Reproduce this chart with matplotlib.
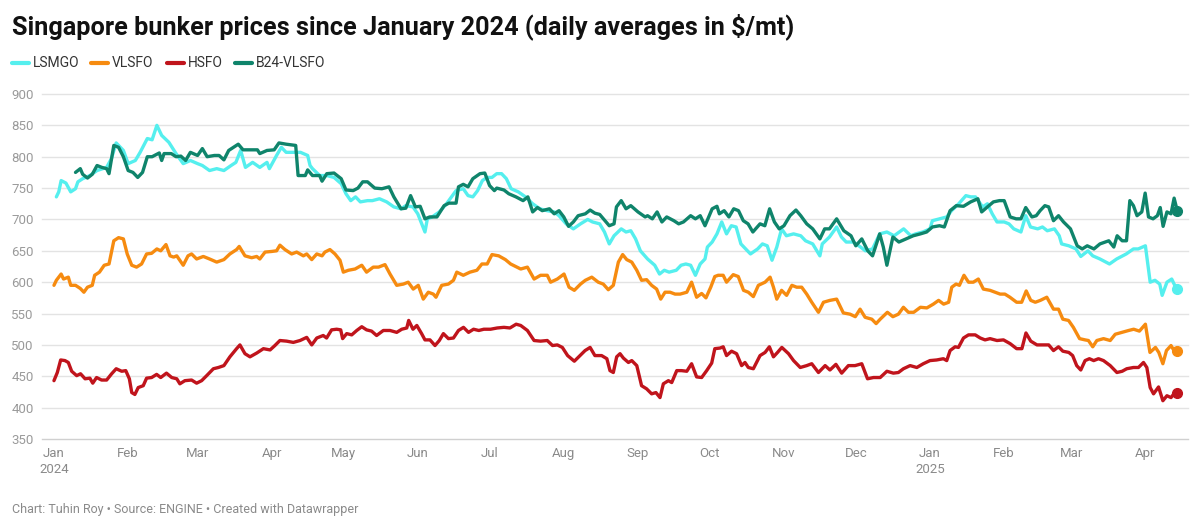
import numpy as np
import pandas as pd
import matplotlib
matplotlib.use('Agg')
import matplotlib.pyplot as plt

plt.rcParams['font.family'] = ['Roboto', 'DejaVu Sans']

# days since 1 Jan 2024, daily averages in $/mt
lsmgo_days = [1, 2, 3, 5, 7, 9, 10, 12, 15, 18, 22, 24, 26, 29, 31, 34, 36, 39, 41, 43, 45, 48, 51, 54, 57, 60,
              62, 65, 68, 71, 74, 76, 78, 80, 83, 86, 89, 90, 93, 95, 97, 100, 103, 106, 107, 108, 111, 114, 117,
              120, 122, 124, 126, 128, 131, 133, 136, 139, 142, 145, 147, 150, 152, 155, 156, 158, 161, 164, 168,
              171, 173, 175, 177, 179, 181, 183, 185, 187, 189, 191, 194, 197, 200, 203, 206, 209, 211, 214, 217,
              220, 223, 225, 228, 230, 232, 234, 237, 239, 241, 243, 245, 248, 251, 253, 255, 257, 260, 262, 264,
              266, 268, 270, 272, 273, 275, 277, 279, 281, 283, 285, 287, 289, 291, 294, 296, 298, 300, 302, 304,
              306, 309, 312, 314, 317, 320, 321, 324, 327, 329, 331, 334, 337, 339, 342, 345, 348, 351, 355, 358,
              360, 363, 366, 367, 370, 373, 375, 378, 381, 383, 385, 388, 390, 392, 394, 397, 399, 401, 404, 406,
              408, 411, 413, 415, 418, 420, 421, 424, 427, 429, 432, 434, 437, 441, 444, 448, 451, 453, 456, 458,
              460, 462, 463, 465, 467, 469]
lsmgo = [736, 744, 762, 758, 744, 749, 760, 765, 770, 778, 783, 797, 822, 810, 789, 794, 807, 829, 827, 850, 834,
         823, 805, 789, 794, 789, 786, 778, 781, 778, 786, 791, 810, 783, 791, 783, 791, 781, 802, 815, 807, 807,
         807, 802, 786, 781, 770, 770, 767, 757, 741, 730, 736, 728, 730, 730, 733, 728, 720, 717, 722, 720, 709,
         680, 701, 704, 712, 725, 746, 749, 738, 736, 746, 762, 767, 767, 773, 773, 765, 749, 744, 736, 725, 717,
         714, 712, 706, 693, 685, 693, 700, 696, 693, 680, 661, 674, 685, 680, 682, 669, 650, 637, 627, 613, 619,
         616, 619, 627, 629, 627, 611, 629, 637, 656, 664, 677, 696, 677, 690, 688, 661, 653, 645, 653, 661, 658,
         635, 656, 685, 674, 677, 674, 666, 661, 642, 661, 672, 688, 672, 664, 664, 656, 650, 653, 677, 680, 674,
         685, 674, 677, 680, 685, 698, 701, 704, 714, 725, 738, 736, 736, 720, 725, 709, 696, 696, 693, 685, 680,
         706, 688, 685, 688, 682, 685, 674, 661, 658, 653, 641, 650, 642, 637, 629, 637, 645, 653, 653, 658, 600,
         603, 597, 579, 600, 605, 589]

vlsfo_days = [0, 1, 3, 4, 6, 7, 9, 11, 12.5, 14, 16, 17, 19, 21, 23, 25, 27, 29, 30.6, 32.5, 34.5, 36.6, 38.7,
              40.8, 43, 44.6, 46.8, 48.5, 50, 51.3, 54, 56, 57.5, 59.6, 62.4, 65, 68, 71, 73.5, 76.3, 77.4, 79.8,
              82.6, 84.7, 86, 88.2, 91, 93, 94.4, 96.5, 99.3, 101.4, 104.2, 105.6, 107.7, 109.8, 112, 113.2,
              115.3, 117.4, 119.5, 120.9, 123, 125.8, 128.6, 130.6, 133.4, 135.6, 138.3, 140.4, 143.2, 146, 148,
              150.1, 152.2, 154.3, 156.4, 158.5, 159.6, 162, 164.8, 166.9, 168.3, 171, 173.8, 176.7, 178.8, 181,
              183, 185.8, 188.6, 190.8, 192.9, 195, 197.8, 200.6, 203.3, 206.1, 207.5, 210.3, 213.1, 215.2, 217.4,
              220, 222, 224.7, 227.4, 229.5, 231.6, 233.7, 235.8, 237.6, 239.3, 241.4, 243.5, 245.5, 247.6, 249.7,
              251.8, 253.5, 255.3, 257.4, 259.5, 261.6, 264.4, 266.4, 268.5, 270.6, 272.4, 274.4, 276.1, 277.5,
              279.6, 281, 283.8, 285.9, 288.1, 290.1, 292.2, 294.3, 297.1, 299.2, 300.6, 302, 304, 306.1, 308.3,
              310.3, 312.4, 314.5, 316.6, 319.4, 321.5, 324.2, 327, 329.8, 332.6, 334.8, 336.8, 338.9, 341.7,
              343.5, 345.2, 348.2, 350.5, 352.8, 354.9, 357, 359.2, 362, 364.7, 367.4, 369.6, 371.7, 373.8, 375.1,
              376.9, 378.3, 380.2, 382.1, 384.1, 386.2, 388.3, 391.1, 393.2, 395.3, 397.3, 399.4, 402.2, 404.3,
              406.2, 408.1, 410, 412.1, 414.8, 417.6, 419.7, 421.5, 423.9, 425.9, 428.5, 430.8, 432.2, 434, 435.7,
              438.5, 441.3, 443.4, 446.2, 449, 451.1, 453.5, 456, 457.9, 460.2, 461.6, 463.3, 464.8, 466.7, 468.1,
              469.3]
vlsfo = [595, 603, 613, 605, 608, 595, 595, 590, 584, 592, 595, 611, 616, 627, 629, 666, 671, 669, 645, 627, 624,
         629, 645, 646, 653, 650, 660, 642, 640, 642, 627, 642, 645, 637, 641, 637, 632, 636, 645, 652, 657, 642,
         639, 641, 637, 648, 649, 650, 659, 652, 645, 648, 642, 645, 636, 645, 642, 648, 652, 645, 635, 616, 619,
         621, 627, 616, 624, 624, 628, 613, 595, 597, 600, 589, 595, 573, 584, 581, 576, 595, 597, 603, 616, 611,
         616, 619, 629, 629, 644, 642, 636, 629, 625, 621, 624, 605, 611, 611, 600, 605, 613, 592, 587, 597, 603,
         608, 600, 597, 588, 595, 632, 644, 636, 632, 619, 603, 604, 595, 589, 573, 584, 584, 581, 581, 584, 600,
         576, 582, 575, 592, 609, 611, 611, 600, 612, 609, 587, 584, 577, 595, 600, 608, 592, 573, 587, 579, 595,
         592, 592, 581, 568, 552, 568, 571, 573, 551, 549, 545, 557, 544, 541, 534, 541, 552, 545, 549, 560, 552,
         552, 560, 559, 565, 571, 565, 568, 592, 597, 595, 611, 600, 600, 605, 589, 587, 584, 581, 581, 576, 568,
         568, 586, 571, 568, 571, 576, 557, 557, 541, 539, 528, 510, 508, 507, 497, 507, 510, 507, 517, 520, 523,
         525, 522, 533, 488, 496, 488, 470, 491, 499, 490, 491]

hsfo_days = [0, 1.4, 2.8, 4.6, 6, 7.4, 9.5, 11.1, 13, 15, 16.2, 17.8, 19.9, 22, 24.1, 26, 28.3, 30, 31.5, 32.5,
             33.8, 35.2, 37.3, 38.7, 40.8, 42.9, 44.6, 47, 49.2, 51.3, 52.6, 54.7, 57.5, 59.6, 61.7, 63.8, 66.6,
             68.7, 71, 73.5, 76.3, 77.7, 79.8, 81.9, 84.7, 87.5, 90.3, 92.3, 94.4, 97.2, 100, 102.8, 105.6, 107.7,
             109.8, 112.5, 113.9, 116, 118.1, 119.8, 120.6, 122.3, 124.4, 126.5, 128.6, 130.6, 132.7, 134.8, 137.6,
             140.4, 143.2, 145.3, 147.4, 148.2, 150, 151.6, 153.6, 155, 157.1, 159.2, 161, 162.7, 164.8, 166.9,
             169, 171.1, 173.2, 175.3, 177.5, 179.6, 182.4, 185.2, 188, 190.5, 193.1, 195, 197.8, 200.6, 203.3,
             206.1, 208.3, 210.3, 212.4, 214.6, 217.4, 219.8, 221.9, 224, 226, 228.8, 231, 232.3, 233.7, 235.1,
             236.5, 237.9, 240, 241.4, 243.5, 245.5, 247.6, 249.7, 251.5, 253.2, 254.6, 256.7, 258.1, 260.2,
             262.2, 264.4, 266.4, 268.5, 270.6, 272.7, 274.8, 276.1, 278.3, 279.6, 281, 283.1, 285.2, 287.3,
             288.7, 290.1, 292.2, 295, 297.1, 298.9, 300.6, 302.3, 304.1, 306.9, 309, 311.8, 314.5, 316.6, 319.4,
             322.2, 324.2, 326.7, 329.1, 331.9, 334.7, 337.5, 339.9, 342.4, 345.2, 348, 350.7, 352.8, 354.9,
             357.7, 360.5, 363.2, 366, 368.8, 371.6, 373, 374.4, 376.5, 377.9, 380, 382.1, 384.9, 387, 389, 391.1,
             394, 396.7, 399.5, 402.2, 404.4, 406.1, 408.1, 410.7, 413.5, 415.6, 417.6, 419.7, 421.5, 424, 425.6,
             427.3, 429, 430.8, 432.6, 434.4, 436.4, 438.5, 441.3, 444.1, 446.3, 448.2, 451, 453.1, 455.2, 456.6,
             458, 459.4, 461.5, 463.3, 465, 466.7, 468.1, 469.3]
hsfo = [443, 456, 476, 475, 472, 458, 451, 454, 446, 447, 439, 448, 444, 444, 454, 462, 458, 459, 446, 424, 421,
        432, 435, 447, 448, 453, 448, 455, 448, 446, 438, 443, 444, 439, 443, 451, 462, 464, 467, 481, 494, 500,
        486, 481, 487, 494, 492, 499, 507, 506, 504, 507, 512, 500, 511, 515, 511, 524, 525, 524, 510, 518, 516,
        523, 529, 524, 522, 515, 523, 523, 520, 525, 527, 539, 525, 531, 518, 508, 508, 499, 507, 518, 510, 511,
        523, 528, 520, 525, 523, 525, 525, 527, 528, 527, 533, 531, 523, 507, 506, 507, 499, 500, 496, 483, 474,
        483, 491, 496, 483, 483, 478, 459, 456, 481, 486, 479, 472, 475, 467, 435, 430, 422, 424, 416, 438, 443,
        440, 459, 459, 458, 470, 449, 448, 459, 471, 494, 495, 497, 483, 490, 486, 467, 472, 464, 462, 483, 488,
        497, 481, 488, 496, 486, 475, 464, 467, 470, 456, 467, 460, 469, 455, 467, 467, 470, 446, 448, 448, 458,
        455, 456, 462, 467, 464, 470, 475, 476, 478, 475, 491, 497, 496, 511, 516, 516, 511, 508, 510, 507, 508,
        502, 494, 494, 519, 506, 500, 500, 500, 491, 497, 490, 488, 483, 467, 460, 475, 478, 475, 478, 475, 467,
        456, 458, 462, 464, 464, 472, 464, 432, 422, 433, 411, 419, 416, 423, 424]

b24_days = [9, 11, 12, 14, 16, 18, 20, 22, 23, 25, 27, 29, 31, 33, 35, 37, 39, 41, 44, 45, 46, 49, 51, 53, 55, 57,
            60, 62, 64, 67, 69, 71, 73, 77, 79, 82, 85, 86, 89, 92, 94, 97, 101, 102, 105, 106, 108, 111, 112, 114,
            117, 120, 122, 125, 127, 129, 131, 134, 137, 140, 142, 145, 147, 149, 151, 153, 155, 157, 160, 163,
            165, 168, 169, 171, 173, 175, 178, 180, 182, 184, 185, 188, 190, 193, 196, 198, 200, 202, 204, 207,
            209, 211, 213, 215, 217, 219, 222, 224, 226, 228, 232, 234, 235, 237, 239, 241, 244, 247, 248, 250,
            252, 254, 256, 259, 261, 263, 266, 268, 270, 272, 275, 277, 278, 280, 282, 284, 286, 288, 290, 292,
            295, 297, 299, 301, 303, 305, 307.5, 310, 312, 314.5, 317, 320, 322, 324, 327, 330, 333, 335, 337.5,
            340, 342, 345, 346.5, 348, 350.5, 353, 356, 359, 362, 364.6, 367, 370, 372, 374.4, 377, 380, 383, 386,
            387.6, 390, 392.5, 395, 397, 399.5, 402, 404, 406, 408.6, 410.4, 412, 414, 415.6, 417.6, 419.7, 421.8,
            424.7, 427.5, 429.6, 431.7, 434.5, 437, 440.7, 442.8, 444.2, 446.3, 448.1, 449.5, 451, 452.5, 454.5,
            455.9, 457.3, 459.2, 461, 462.2, 463.4, 465, 466.7, 468, 469.3]
b24 = [775, 781, 772, 766, 772, 786, 783, 781, 773, 818, 815, 800, 778, 775, 767, 775, 800, 800, 806, 794, 805,
       805, 800, 801, 794, 807, 802, 813, 800, 802, 802, 795, 810, 820, 811, 811, 811, 805, 810, 811, 822, 820,
       818, 770, 770, 779, 770, 770, 761, 773, 774, 765, 747, 746, 750, 760, 760, 750, 749, 752, 736, 717, 718,
       738, 720, 721, 701, 704, 704, 722, 726, 726, 752, 756, 752, 765, 773, 774, 754, 746, 750, 747, 741, 736,
       730, 736, 712, 719, 714, 717, 709, 714, 704, 689, 696, 706, 709, 715, 710, 708, 690, 693, 720, 730, 717,
       722, 712, 704, 706, 701, 712, 696, 704, 698, 693, 696, 706, 701, 706, 690, 717, 721, 709, 714, 704, 717,
       714, 698, 693, 680, 693, 690, 717, 696, 685, 690, 706, 715, 706, 693, 685, 669, 685, 685, 701, 682, 674,
       658, 669, 650, 642, 677, 656, 627, 672, 664, 669, 674, 677, 680, 688, 690, 688, 714, 722, 721, 728, 733,
       712, 720, 728, 730, 730, 704, 701, 701, 719, 704, 706, 714, 722, 720, 698, 706, 696, 685, 658, 653, 658,
       653, 661, 666, 656, 674, 666, 666, 730, 722, 706, 712, 742, 704, 701, 706, 719, 689, 712, 709, 734, 714]

series_names = ['LSMGO', 'VLSFO', 'HSFO', 'B24-VLSFO']
series_colors = ['#55efee', '#f68b10', '#c0141c', '#0f846b']
y_ticks = [350, 400, 450, 500, 550, 600, 650, 700, 750, 800, 850, 900]

start = pd.Timestamp('2024-01-01')


def toDates(days):
    return start + pd.to_timedelta(np.array(days, dtype=float), unit='D')


fig = plt.figure(figsize=(12, 5.28), dpi=100)
ax = fig.add_axes([42 / 1200, 1 - 439 / 528, (1188 - 42) / 1200, (439 - 94) / 528])

data = [(lsmgo_days, lsmgo), (vlsfo_days, vlsfo), (hsfo_days, hsfo), (b24_days, b24)]
for (days, vals), name, col in zip(data, series_names, series_colors):
    d = toDates(days)
    ax.plot(d, vals, color=col, lw=2.4, solid_joinstyle='round', solid_capstyle='round', zorder=3)
    ax.plot(d[-1:], vals[-1:], 'o', color=col, ms=7, zorder=4)

ax.set_xlim(start - pd.Timedelta(days=5), start + pd.Timedelta(days=473.8))
ax.set_ylim(350, 900)

for yv in y_ticks:
    ax.axhline(yv, color='#d0d0d0' if yv == 350 else '#e3e3e3', lw=1, zorder=1, clip_on=False)

ax.set_yticks(y_ticks)
ax.set_yticklabels([str(v) for v in y_ticks])
months = pd.date_range('2024-01-01', '2025-04-01', freq='MS')
ax.set_xticks(months)
ax.set_xticklabels([m.strftime('%b') + ('\n' + str(m.year) if m.month == 1 else '') for m in months],
                   linespacing=1.25)
ax.tick_params(axis='y', length=0, pad=6, labelsize=9.5, labelcolor='#9a9a9a')
ax.tick_params(axis='x', length=0, pad=6, labelsize=9.5, labelcolor='#8a8a8a')
for lab in ax.get_xticklabels():
    lab.set_verticalalignment('top')
for s in ax.spines.values():
    s.set_visible(False)

fig.text(12 / 1200, 1 - 27 / 528, 'Singapore bunker prices since January 2024 (daily averages in $/mt)',
         fontsize=18.2, fontweight='bold', color='#111111', va='center', ha='left')

# legend
leg_line_x = [12, 91, 167, 235]
for lx, name, col in zip(leg_line_x, series_names, series_colors):
    yy = 1 - 63 / 528
    fig.add_artist(plt.Line2D([lx / 1200, (lx + 17) / 1200], [yy, yy], color=col, lw=3,
                              solid_capstyle='round', transform=fig.transFigure))
    fig.text((lx + 21) / 1200, yy, name, fontsize=10, color='#333333', va='center', ha='left')

fig.text(12 / 1200, 1 - 509 / 528, 'Chart: Tuhin Roy \u2022 Source: ENGINE \u2022 Created with Datawrapper',
         fontsize=9, color='#8a8a8a', va='center', ha='left')

fig.savefig('out.png', dpi=100, facecolor='white')
